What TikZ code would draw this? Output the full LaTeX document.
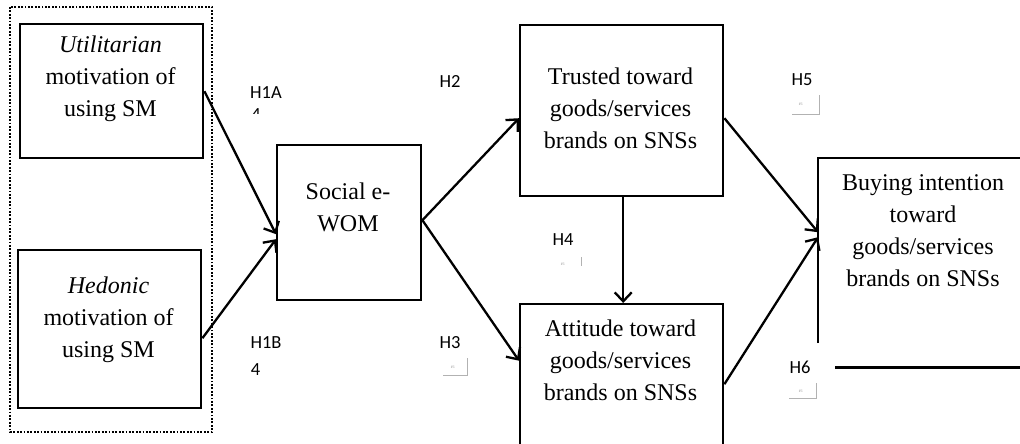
\documentclass[tikz,border=0pt]{standalone}
\usepackage{fontspec}
\setmainfont{Liberation Serif}
\newfontfamily\hfont{Carlito}
\usetikzlibrary{arrows.meta}

\tikzset{
  box/.style={draw, line width=2.4pt, inner sep=0pt, anchor=north west},
  txt/.style={align=center, inner sep=0pt, font=\fontsize{24}{32}\selectfont},
  lbl/.style={inner sep=0pt, font=\hfont\fontsize{18.5}{21}\selectfont},
  tinytxt/.style={inner sep=0pt, text=black!35, font=\hfont\fontsize{4}{5}\selectfont},
  markline/.style={draw=black!30, line width=0.7pt},
  conn/.style={line width=2.3pt, -{Straight Barb[length=9pt,width=17pt,line width=2.3pt]}},
  group/.style={draw, line width=1.8pt, dash pattern=on 1.8pt off 1.6pt}
}

\begin{document}
\begin{tikzpicture}[x=1pt,y=-1pt]
\useasboundingbox (0,0) rectangle (1020,444);
\clip (0,0) rectangle (1020,444);

% dotted frame around the two motivation constructs
\draw[group] (10,7) rectangle (212,432);

% construct boxes
\node[box, minimum width=183pt, minimum height=134pt] (util) at (19,23) {};
\node[box, minimum width=183pt, minimum height=158pt] (hed) at (17,249) {};
\node[box, minimum width=144pt, minimum height=155pt] (soc) at (276,144) {};
\node[box, minimum width=203pt, minimum height=171pt] (trust) at (519,24) {};
\node[box, minimum width=203pt, minimum height=160pt] (att) at (519,303) {};
\node[inner sep=0pt, anchor=north west, minimum width=230pt, minimum height=209pt] (buy) at (818,158) {};
\draw[line width=2.4pt] ([yshift=-185pt]buy.north west) -- (buy.north west) -- (buy.north east);
\draw[line width=2.4pt] ([xshift=17pt]buy.south west) -- (buy.south east);

% construct texts
\node[txt] (utilT) at (110.5,78.5) {\textit{Utilitarian}\\motivation of\\using SM};
\node[txt] (hedT) at (108.5,320) {\textit{Hedonic}\\motivation of\\using SM};
\node[txt] (socT) at (348,207.5) {Social e-\\WOM};
\node[txt] (trustT) at (620.5,108.5) {Trusted toward\\goods/services\\brands on SNSs};
\node[txt] (attT) at (620.5,360) {Attitude toward\\goods/services\\brands on SNSs};
\node[txt] (buyT) at (923,230.5) {Buying intention\\toward\\goods/services\\brands on SNSs};

% hypothesised paths
\draw[conn] (util.east) -- ([yshift=-11.5pt]soc.west);
\draw[conn] ([yshift=-9pt]hed.east) -- ([yshift=-16.5pt]soc.west);
\draw[conn] ([yshift=2.5pt]soc.east) -- ([yshift=-7.5pt]trust.west);
\draw[conn] ([yshift=2.5pt]soc.east) -- ([yshift=23.5pt]att.west);
\draw[conn] ([xshift=1.5pt]trust.south) -- ([xshift=1.5pt]att.north);
\draw[conn] ([yshift=-7.5pt]trust.east) -- ([yshift=30.5pt]buy.west);
\draw[conn] (att.east) -- ([yshift=25.5pt]buy.west);

% hypothesis labels
\node[lbl] (h1a) at (266,93) {H1A};
\begin{scope}
  \clip (240,100) rectangle (275,113);
  \node[lbl] (h1a4) at (256,115) {4};
\end{scope}
\node[lbl] (h1b) at (266,343) {H1B};
\node[lbl] (h1b4) at (255.5,370) {4};
\node[lbl] (h2) at (450,81) {H2};
\node[lbl] (h3) at (450,343) {H3};
\node[lbl] (h4) at (563,240) {H4};
\node[lbl] (h5) at (802,80) {H5};
\node[lbl] (h6) at (800,367) {H6};

% small comment markers under the labels
\node[tinytxt] (m3) at (453,367) {\#1};
\draw[markline] (467,358) -- (467,375) -- (443,375);
\node[tinytxt] (m4) at (563,264) {\#1};
\draw[markline] (581,257) -- (581,266);
\node[tinytxt] (m5) at (801,104) {\#1};
\draw[markline] (819,95) -- (819,114) -- (792,114);
\node[tinytxt] (m6) at (801,391) {\#1};
\draw[markline] (816,383) -- (816,398) -- (789,398);
\end{tikzpicture}
\end{document}
